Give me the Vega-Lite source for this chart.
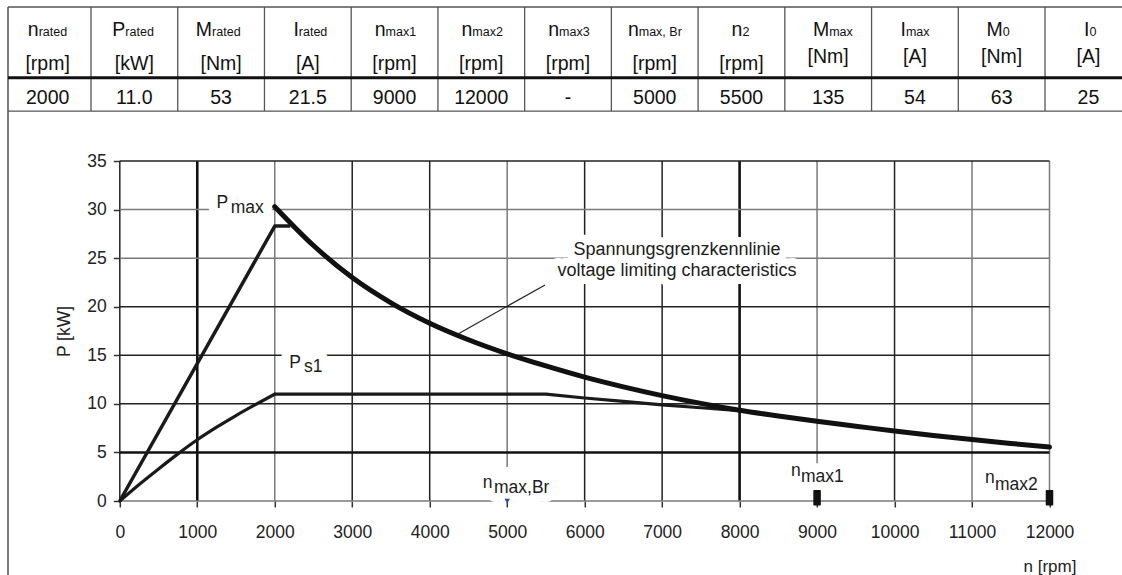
{
  "$schema": "https://vega.github.io/schema/vega-lite/v6.json",
  "width": 929.7,
  "height": 340,
  "autosize": {"type": "none"},
  "padding": {"left": 119.8, "top": 161, "right": 72.5, "bottom": 74},
  "background": "white",
  "config": {
    "view": {"stroke": null},
    "font": "Liberation Sans",
    "text": {"font": "Liberation Sans", "color": "#1c1c1c"},
    "axis": {
      "labelFont": "Liberation Sans",
      "titleFont": "Liberation Sans",
      "labelColor": "#222222",
      "titleColor": "#222222",
      "titleFontWeight": "normal",
      "domain": false,
      "grid": false,
      "tickColor": "#333333",
      "tickWidth": 1.5,
      "labelFlush": false,
      "labelOverlap": false
    }
  },
  "datasets": {
    "pmax": [
      {"n": 2000, "p": 30.3}, {"n": 2500, "p": 26.3}, {"n": 3000, "p": 23.0}, {"n": 3500, "p": 20.4},
      {"n": 4000, "p": 18.3}, {"n": 4500, "p": 16.6}, {"n": 5000, "p": 15.15}, {"n": 5500, "p": 13.9},
      {"n": 6000, "p": 12.75}, {"n": 6500, "p": 11.75}, {"n": 7000, "p": 10.85}, {"n": 7500, "p": 10.05},
      {"n": 8000, "p": 9.35}, {"n": 8500, "p": 8.75}, {"n": 9000, "p": 8.2}, {"n": 9500, "p": 7.7},
      {"n": 10000, "p": 7.2}, {"n": 10500, "p": 6.75}, {"n": 11000, "p": 6.33}, {"n": 11500, "p": 5.93},
      {"n": 12000, "p": 5.55}
    ],
    "rise": [{"n": 0, "p": 0}, {"n": 2000, "p": 28.3}, {"n": 2200, "p": 28.3}],
    "ps1_rise": [
      {"n": 0, "p": 0}, {"n": 250, "p": 1.7}, {"n": 500, "p": 3.3}, {"n": 750, "p": 4.85},
      {"n": 1000, "p": 6.3}, {"n": 1250, "p": 7.6}, {"n": 1500, "p": 8.8}, {"n": 1750, "p": 9.92},
      {"n": 2000, "p": 11.0}
    ],
    "ps1_flat": [
      {"n": 2000, "p": 11.0}, {"n": 5500, "p": 11.0}, {"n": 6000, "p": 10.6}, {"n": 6500, "p": 10.25},
      {"n": 7000, "p": 9.9}, {"n": 7500, "p": 9.6}, {"n": 8000, "p": 9.3}
    ],
    "vgrid_gray": [
      {"n": 2000, "lo": 0, "hi": 35}, {"n": 5000, "lo": 3.5, "hi": 35}, {"n": 9000, "lo": 3.7, "hi": 35},
      {"n": 11000, "lo": 0, "hi": 35}, {"n": 12000, "lo": 0, "hi": 35}
    ],
    "vgrid_dark": [{"n": 0}, {"n": 3000}, {"n": 4000}, {"n": 6000}, {"n": 7000}, {"n": 10000}],
    "vgrid_thick": [{"n": 1000}, {"n": 8000}],
    "hgrid_gray": [{"p": 0}, {"p": 25}, {"p": 30}],
    "hgrid_dark": [{"p": 35}, {"p": 20}, {"p": 15}, {"p": 10}],
    "hgrid_thick": [{"p": 5}],
    "annot": [
      {"n": 1248, "p": 30.13, "t": "P"}, {"n": 1431, "p": 29.62, "t": "max"},
      {"n": 2186, "p": 13.66, "t": "P"}, {"n": 2378, "p": 13.31, "t": "s1"},
      {"n": 4684, "p": 1.31, "t": "n"}, {"n": 4830, "p": 0.875, "t": "max,Br"},
      {"n": 8664, "p": 2.57, "t": "n"}, {"n": 8793, "p": 1.96, "t": "max1"},
      {"n": 11168, "p": 1.88, "t": "n"}, {"n": 11297, "p": 1.13, "t": "max2"}
    ],
    "note": [
      {"n": 7192, "p": 25.84, "t": "Spannungsgrenzkennlinie"},
      {"n": 7192, "p": 23.68, "t": "voltage limiting characteristics"}
    ],
    "leader": [{"n1": 4366, "p1": 17.2, "n2": 5489, "p2": 22.24}],
    "markers": [{"n": 9000, "p": 0}, {"n": 12000, "p": 0}],
    "brmark": [{"n": 5000, "p": 0}],
    "thead": [
      {"col": 0.5, "sym": "n", "sub": "rated", "unit": "[rpm]"},
      {"col": 1.5, "sym": "P", "sub": "rated", "unit": "[kW]"},
      {"col": 2.5, "sym": "M", "sub": "rated", "unit": "[Nm]"},
      {"col": 3.5, "sym": "I", "sub": "rated", "unit": "[A]"},
      {"col": 4.5, "sym": "n", "sub": "max1", "unit": "[rpm]"},
      {"col": 5.5, "sym": "n", "sub": "max2", "unit": "[rpm]"},
      {"col": 6.5, "sym": "n", "sub": "max3", "unit": "[rpm]"},
      {"col": 7.5, "sym": "n", "sub": "max, Br", "unit": "[rpm]"},
      {"col": 8.5, "sym": "n", "sub": "2", "unit": "[rpm]"},
      {"col": 9.5, "sym": "M", "sub": "max", "unit": "[Nm]"},
      {"col": 10.5, "sym": "I", "sub": "max", "unit": "[A]"},
      {"col": 11.5, "sym": "M", "sub": "0", "unit": "[Nm]"},
      {"col": 12.5, "sym": "I", "sub": "0", "unit": "[A]"}
    ],
    "tdata": [
      {"col": 0.5, "val": "2000"}, {"col": 1.5, "val": "11.0"}, {"col": 2.5, "val": "53"},
      {"col": 3.5, "val": "21.5"}, {"col": 4.5, "val": "9000"}, {"col": 5.5, "val": "12000"},
      {"col": 6.5, "val": "-"}, {"col": 7.5, "val": "5000"}, {"col": 8.5, "val": "5500"},
      {"col": 9.5, "val": "135"}, {"col": 10.5, "val": "54"}, {"col": 11.5, "val": "63"},
      {"col": 12.5, "val": "25"}
    ],
    "tvl": [{"u": 1}, {"u": 2}, {"u": 3}, {"u": 4}, {"u": 5}, {"u": 6}, {"u": 7}, {"u": 8}, {"u": 9}, {"u": 10}, {"u": 11}, {"u": 12}],
    "thl": [{"v": 0}, {"v": 1.455}],
    "one": [{}]
  },
  "layer": [
    {
      "layer": [
        {
          "data": {"name": "vgrid_gray"},
          "mark": {"type": "rule", "color": "#7a7a7a", "strokeWidth": 1.5},
          "encoding": {
            "x": {"field": "n", "type": "quantitative",
              "scale": {"domain": [0, 12000], "nice": false, "zero": false},
              "axis": {"values": [0, 1000, 2000, 3000, 4000, 5000, 6000, 7000, 8000, 9000, 10000, 11000, 12000],
                "format": "d", "title": "n [rpm]", "titleAnchor": "end", "titleAlign": "center",
                "labelFontSize": 17.5, "titleFontSize": 17, "tickSize": 6, "labelPadding": 16, "titlePadding": 18}},
            "y": {"field": "lo", "type": "quantitative",
              "scale": {"domain": [0, 35], "nice": false, "zero": false},
              "axis": {"values": [0, 5, 10, 15, 20, 25, 30, 35], "format": "d", "title": "P [kW]",
                "labelFontSize": 17.5, "titleFontSize": 17.5, "tickSize": 6.5, "labelPadding": 7, "titlePadding": 13}},
            "y2": {"field": "hi"}
          }
        },
        {
          "data": {"name": "vgrid_dark"},
          "mark": {"type": "rule", "color": "#222222", "strokeWidth": 1.5},
          "encoding": {
            "x": {"field": "n", "type": "quantitative"},
            "y": {"datum": 0, "type": "quantitative"},
            "y2": {"datum": 35}
          }
        },
        {
          "data": {"name": "vgrid_thick"},
          "mark": {"type": "rule", "color": "#111111", "strokeWidth": 2.6},
          "encoding": {
            "x": {"field": "n", "type": "quantitative"},
            "y": {"datum": 0, "type": "quantitative"},
            "y2": {"datum": 35}
          }
        },
        {
          "data": {"name": "hgrid_gray"},
          "mark": {"type": "rule", "color": "#7a7a7a", "strokeWidth": 1.5},
          "encoding": {
            "y": {"field": "p", "type": "quantitative"},
            "x": {"datum": 0, "type": "quantitative"},
            "x2": {"datum": 12000}
          }
        },
        {
          "data": {"name": "hgrid_dark"},
          "mark": {"type": "rule", "color": "#222222", "strokeWidth": 1.5},
          "encoding": {
            "y": {"field": "p", "type": "quantitative"},
            "x": {"datum": 0, "type": "quantitative"},
            "x2": {"datum": 12000}
          }
        },
        {
          "data": {"name": "hgrid_thick"},
          "mark": {"type": "rule", "color": "#111111", "strokeWidth": 2.6},
          "encoding": {
            "y": {"field": "p", "type": "quantitative"},
            "x": {"datum": 0, "type": "quantitative"},
            "x2": {"datum": 12000}
          }
        },
        {
          "data": {"name": "note"},
          "mark": {"type": "text", "fontSize": 18, "align": "center", "baseline": "middle", "stroke": "white", "strokeWidth": 16, "strokeJoin": "round", "fill": "white"},
          "encoding": {
            "x": {"field": "n", "type": "quantitative"},
            "y": {"field": "p", "type": "quantitative"},
            "text": {"field": "t"}
          }
        },
        {
          "data": {"name": "annot"},
          "mark": {"type": "text", "fontSize": 17.5, "align": "left", "baseline": "alphabetic", "stroke": "white", "strokeWidth": 18, "strokeJoin": "round", "fill": "white"},
          "encoding": {
            "x": {"field": "n", "type": "quantitative"},
            "y": {"field": "p", "type": "quantitative"},
            "text": {"field": "t"}
          }
        },
        {
          "data": {"name": "leader"},
          "mark": {"type": "rule", "color": "#222222", "strokeWidth": 1.2},
          "encoding": {
            "x": {"field": "n1", "type": "quantitative"},
            "y": {"field": "p1", "type": "quantitative"},
            "x2": {"field": "n2"},
            "y2": {"field": "p2"}
          }
        },
        {
          "data": {"name": "ps1_rise"},
          "mark": {"type": "line", "color": "#1a1a1a", "strokeWidth": 3.2, "interpolate": "monotone", "strokeCap": "round"},
          "encoding": {
            "x": {"field": "n", "type": "quantitative"},
            "y": {"field": "p", "type": "quantitative"}
          }
        },
        {
          "data": {"name": "ps1_flat"},
          "mark": {"type": "line", "color": "#1a1a1a", "strokeWidth": 3.2, "strokeJoin": "round", "strokeCap": "round"},
          "encoding": {
            "x": {"field": "n", "type": "quantitative"},
            "y": {"field": "p", "type": "quantitative"}
          }
        },
        {
          "data": {"name": "rise"},
          "mark": {"type": "line", "color": "#1a1a1a", "strokeWidth": 3.5, "strokeJoin": "round"},
          "encoding": {
            "x": {"field": "n", "type": "quantitative"},
            "y": {"field": "p", "type": "quantitative"}
          }
        },
        {
          "data": {"name": "pmax"},
          "mark": {"type": "line", "color": "#111111", "strokeWidth": 5, "interpolate": "monotone", "strokeCap": "round"},
          "encoding": {
            "x": {"field": "n", "type": "quantitative"},
            "y": {"field": "p", "type": "quantitative"}
          }
        },
        {
          "data": {"name": "markers"},
          "mark": {"type": "point", "shape": "M-0.43,-1.45L0.43,-1.45L0.43,0.55L-0.43,0.55Z", "size": 196, "filled": true, "color": "#111111", "opacity": 1, "stroke": "#111111", "strokeWidth": 1.5, "strokeJoin": "round"},
          "encoding": {
            "x": {"field": "n", "type": "quantitative"},
            "y": {"field": "p", "type": "quantitative"}
          }
        },
        {
          "data": {"name": "brmark"},
          "mark": {"type": "point", "shape": "triangle-down", "size": 30, "filled": true, "color": "#2b4aa0", "opacity": 1},
          "encoding": {
            "x": {"field": "n", "type": "quantitative"},
            "y": {"field": "p", "type": "quantitative"}
          }
        },
        {
          "data": {"name": "annot"},
          "mark": {"type": "text", "fontSize": 17.5, "align": "left", "baseline": "alphabetic", "color": "#1c1c1c"},
          "encoding": {
            "x": {"field": "n", "type": "quantitative"},
            "y": {"field": "p", "type": "quantitative"},
            "text": {"field": "t"}
          }
        },
        {
          "data": {"name": "note"},
          "mark": {"type": "text", "fontSize": 18, "align": "center", "baseline": "middle", "color": "#1c1c1c"},
          "encoding": {
            "x": {"field": "n", "type": "quantitative"},
            "y": {"field": "p", "type": "quantitative"},
            "text": {"field": "t"}
          }
        }
      ]
    },
    {
      "layer": [
        {
          "data": {"name": "tvl"},
          "mark": {"type": "rule", "color": "#555555", "strokeWidth": 1.3},
          "encoding": {
            "x": {"field": "u", "type": "quantitative", "axis": null, "scale": {"domain": [1.3321, 12.0516], "nice": false, "zero": false}},
            "y": {"datum": 0, "type": "quantitative", "axis": null, "scale": {"domain": [6.909, 2.1538], "nice": false, "zero": false}},
            "y2": {"datum": 1.455}
          }
        },
        {
          "data": {"name": "thl"},
          "mark": {"type": "rule", "color": "#555555", "strokeWidth": 1.3},
          "encoding": {
            "y": {"field": "v", "type": "quantitative", "axis": null},
            "x": {"datum": 0.043, "type": "quantitative", "axis": null},
            "x2": {"datum": 13}
          }
        },
        {
          "data": {"name": "one"},
          "mark": {"type": "rule", "color": "#555555", "strokeWidth": 1.5},
          "encoding": {
            "x": {"datum": 0.043, "type": "quantitative", "axis": null},
            "y": {"datum": 0, "type": "quantitative", "axis": null},
            "y2": {"datum": 7.95}
          }
        },
        {
          "data": {"name": "one"},
          "mark": {"type": "rule", "color": "#111111", "strokeWidth": 3},
          "encoding": {
            "y": {"datum": 0.99, "type": "quantitative", "axis": null},
            "x": {"datum": 0.043, "type": "quantitative", "axis": null},
            "x2": {"datum": 13}
          }
        },
        {
          "data": {"name": "thead"},
          "transform": [{"filter": {"field": "col", "oneOf": [0.5, 1.5, 2.5, 3.5, 4.5, 5.5, 6.5, 10.5]}}],
          "mark": {"type": "text", "fontSize": 19.5, "align": "right", "baseline": "alphabetic", "dx": -9, "color": "#111111"},
          "encoding": {
            "x": {"field": "col", "type": "quantitative", "axis": null},
            "y": {"datum": 0.399, "type": "quantitative", "axis": null},
            "text": {"field": "sym"}
          }
        },
        {
          "data": {"name": "thead"},
          "transform": [{"filter": {"field": "col", "oneOf": [0.5, 1.5, 2.5, 3.5, 4.5, 5.5, 6.5, 10.5]}}],
          "mark": {"type": "text", "fontSize": 12.5, "align": "left", "baseline": "alphabetic", "dx": -9, "color": "#111111"},
          "encoding": {
            "x": {"field": "col", "type": "quantitative", "axis": null},
            "y": {"datum": 0.399, "type": "quantitative", "axis": null},
            "text": {"field": "sub"}
          }
        },
        {
          "data": {"name": "thead"},
          "transform": [{"filter": {"field": "col", "oneOf": [7.5]}}],
          "mark": {"type": "text", "fontSize": 19.5, "align": "right", "baseline": "alphabetic", "dx": -16, "color": "#111111"},
          "encoding": {
            "x": {"field": "col", "type": "quantitative", "axis": null},
            "y": {"datum": 0.399, "type": "quantitative", "axis": null},
            "text": {"field": "sym"}
          }
        },
        {
          "data": {"name": "thead"},
          "transform": [{"filter": {"field": "col", "oneOf": [7.5]}}],
          "mark": {"type": "text", "fontSize": 12.5, "align": "left", "baseline": "alphabetic", "dx": -16, "color": "#111111"},
          "encoding": {
            "x": {"field": "col", "type": "quantitative", "axis": null},
            "y": {"datum": 0.399, "type": "quantitative", "axis": null},
            "text": {"field": "sub"}
          }
        },
        {
          "data": {"name": "thead"},
          "transform": [{"filter": {"field": "col", "oneOf": [8.5, 9.5, 11.5, 12.5]}}],
          "mark": {"type": "text", "fontSize": 19.5, "align": "right", "baseline": "alphabetic", "dx": 1, "color": "#111111"},
          "encoding": {
            "x": {"field": "col", "type": "quantitative", "axis": null},
            "y": {"datum": 0.399, "type": "quantitative", "axis": null},
            "text": {"field": "sym"}
          }
        },
        {
          "data": {"name": "thead"},
          "transform": [{"filter": {"field": "col", "oneOf": [8.5, 9.5, 11.5, 12.5]}}],
          "mark": {"type": "text", "fontSize": 12.5, "align": "left", "baseline": "alphabetic", "dx": 1, "color": "#111111"},
          "encoding": {
            "x": {"field": "col", "type": "quantitative", "axis": null},
            "y": {"datum": 0.399, "type": "quantitative", "axis": null},
            "text": {"field": "sub"}
          }
        },
        {
          "data": {"name": "thead"},
          "transform": [{"filter": {"field": "col", "range": [0, 9]}}],
          "mark": {"type": "text", "fontSize": 19.5, "align": "center", "baseline": "middle", "color": "#111111"},
          "encoding": {
            "x": {"field": "col", "type": "quantitative", "axis": null},
            "y": {"datum": 0.797, "type": "quantitative", "axis": null},
            "text": {"field": "unit"}
          }
        },
        {
          "data": {"name": "thead"},
          "transform": [{"filter": {"field": "col", "range": [9.2, 13]}}],
          "mark": {"type": "text", "fontSize": 19.5, "align": "center", "baseline": "middle", "color": "#111111"},
          "encoding": {
            "x": {"field": "col", "type": "quantitative", "axis": null},
            "y": {"datum": 0.706, "type": "quantitative", "axis": null},
            "text": {"field": "unit"}
          }
        },
        {
          "data": {"name": "tdata"},
          "mark": {"type": "text", "fontSize": 19.5, "align": "center", "baseline": "middle", "color": "#111111"},
          "encoding": {
            "x": {"field": "col", "type": "quantitative", "axis": null},
            "y": {"datum": 1.273, "type": "quantitative", "axis": null},
            "text": {"field": "val"}
          }
        }
      ]
    }
  ],
  "resolve": {"scale": {"x": "independent", "y": "independent"}}
}
